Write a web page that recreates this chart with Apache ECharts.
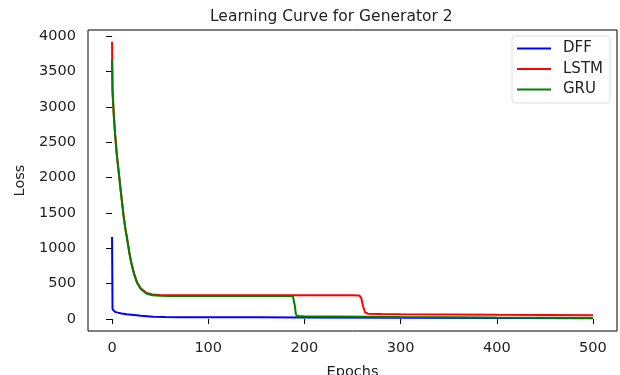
<!DOCTYPE html>
<html>
<head>
<meta charset="utf-8">
<script src="https://cdn.jsdelivr.net/npm/echarts@6/dist/echarts.min.js"></script>
<style>
  html, body { margin: 0; padding: 0; background: #fff; }
  #main { width: 620px; height: 375px; }
</style>
</head>
<body>
<div id="main"></div>
<script>
// values
const xTicks = [0, 100, 200, 300, 400, 500];
const yTicks = [0, 500, 1000, 1500, 2000, 2500, 3000, 3500, 4000];

const dffEpochs = [0, 0.5, 1, 3, 6, 10, 15, 23, 30, 43, 55, 70, 100, 150, 200, 300, 400, 500];
const dffLoss = [1160, 140, 118, 100, 90, 78, 66, 56, 47, 33, 28, 26, 25, 24, 22, 18, 14, 12];

const lstmEpochs = [0, 0.5, 1, 2, 3, 4, 5, 6, 8, 10, 12, 14, 16, 18, 20, 23, 26, 30, 36, 42, 50, 60, 100, 150, 200, 250, 257, 259, 261, 263, 266, 280, 300, 400, 500];
const lstmLoss = [3920, 3250, 3100, 2850, 2650, 2480, 2320, 2200, 1950, 1700, 1460, 1270, 1110, 940, 800, 640, 520, 430, 367, 345, 338, 336, 335, 336, 335, 335, 333, 300, 180, 95, 75, 70, 66, 58, 52];

const gruEpochs = [0, 0.5, 1, 2, 3, 4, 5, 6, 8, 10, 12, 14, 16, 18, 20, 23, 26, 30, 36, 42, 50, 60, 100, 150, 188, 189, 190, 191, 192, 195, 200, 300, 400, 500];
const gruLoss = [3670, 3200, 3080, 2840, 2640, 2470, 2310, 2190, 1940, 1690, 1450, 1260, 1100, 930, 790, 630, 510, 420, 357, 335, 328, 326, 325, 325, 324, 300, 190, 80, 45, 40, 38, 28, 20, 15];

function pairs(xs, ys) {
  return xs.map((x, i) => [x, ys[i]]);
}

const chart = echarts.init(document.getElementById('main'));
const font = 'DejaVu Sans';
const ink = '#222';

chart.setOption({
  animation: false,
  textStyle: { fontFamily: font },
  title: {
    text: 'Learning Curve for Generator 2',
    left: 205, top: 4,
    textStyle: { fontFamily: font, fontSize: 15.5, fontWeight: 'normal', color: ink }
  },
  legend: {
    orient: 'vertical',
    left: 512, top: 36,
    padding: [5, 7, 6, 5],
    itemGap: 5.5,
    itemWidth: 34, itemHeight: 2,
    icon: 'rect',
    backgroundColor: '#fff',
    borderColor: '#ddd', borderWidth: 1, borderRadius: 3,
    textStyle: { fontFamily: font, fontSize: 15, color: ink, padding: [0, 0, 0, 7] },
    data: ['DFF', 'LSTM', 'GRU']
  },
  grid: {
    left: 88, right: 3, top: 30, bottom: 44,
    outerBoundsMode: 'none',
    containLabel: false,
    show: true, borderColor: '#000', borderWidth: 1
  },
  xAxis: {
    type: 'value',
    min: -25, max: 525,
    name: 'Epochs', nameLocation: 'middle', nameGap: 34,
    nameTextStyle: { fontFamily: font, fontSize: 14.5, color: ink },
    axisLine: { show: false },
    axisTick: { show: true, length: 5, customValues: xTicks, lineStyle: { color: '#000' } },
    axisLabel: { customValues: xTicks, margin: 10, fontSize: 14.5, color: ink, fontFamily: font,
      formatter: v => String(v) },
    splitLine: { show: false }
  },
  yAxis: {
    type: 'value',
    min: -170, max: 4085,
    name: 'Loss', nameLocation: 'middle', nameGap: 57,
    nameTextStyle: { fontFamily: font, fontSize: 14.5, color: ink },
    axisLine: { show: false },
    axisTick: { show: true, length: 6, customValues: yTicks, lineStyle: { color: '#000' } },
    axisLabel: { customValues: yTicks, margin: 12, fontSize: 14.5, color: ink, fontFamily: font,
      formatter: v => String(v) },
    splitLine: { show: false }
  },
  series: [
    { name: 'DFF', type: 'line', data: pairs(dffEpochs, dffLoss), showSymbol: false, symbol: 'none',
      lineStyle: { color: '#0000ff', width: 2 }, itemStyle: { color: '#0000ff' } },
    { name: 'LSTM', type: 'line', data: pairs(lstmEpochs, lstmLoss), showSymbol: false, symbol: 'none',
      lineStyle: { color: '#ff0000', width: 2 }, itemStyle: { color: '#ff0000' } },
    { name: 'GRU', type: 'line', data: pairs(gruEpochs, gruLoss), showSymbol: false, symbol: 'none',
      lineStyle: { color: '#008000', width: 2 }, itemStyle: { color: '#008000' } }
  ]
});
</script>
</body>
</html>
